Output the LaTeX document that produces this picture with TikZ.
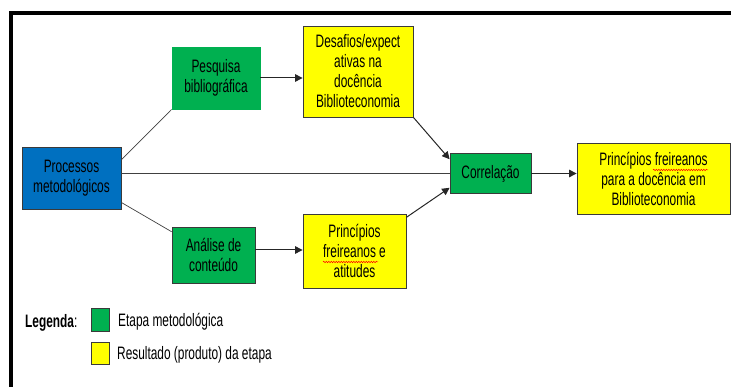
\documentclass[tikz,border=0pt]{standalone}
\usepackage{fontspec}
\setmainfont{Liberation Sans}[FakeStretch=0.66]
\usetikzlibrary{arrows.meta,calc,decorations.pathmorphing}
\definecolor{stepgreen}{HTML}{00B050}
\definecolor{procblue}{HTML}{0070C0}
\definecolor{resyellow}{HTML}{FFFF00}
\definecolor{boxline}{HTML}{3A3A3A}
\definecolor{connline}{HTML}{404040}
\tikzset{
  diagbox/.style={draw=boxline, line width=0.8pt, inner sep=0pt, align=center,
    font=\fontsize{18}{20}\selectfont, text=black},
  greenbox/.style={diagbox, fill=stepgreen},
  yellowbox/.style={diagbox, fill=resyellow},
  bluebox/.style={diagbox, fill=procblue},
  plainline/.style={draw=connline, line width=0.7pt},
  arrowline/.style={draw=black!85, line width=1pt, -{Triangle[length=7.5pt,width=7.5pt]}},
  legtext/.style={anchor=west, inner sep=0pt, font=\fontsize{18}{20}\selectfont},
  squiggle/.style={draw=red, line width=0.5pt, decorate,
    decoration={snake, amplitude=0.7pt, segment length=2.5pt}}
}
\begin{document}
\begin{tikzpicture}[x=1pt,y=-1pt]
\useasboundingbox (0,0) rectangle (731,387);
% frame
\draw[line width=4pt, line cap=rect] (11,390) -- (11,13) -- (735,13);

% nodes
\node[bluebox, minimum width=99pt, minimum height=62pt] (proc) at (71.5,178) {Processos\\metodológicos};
\node[greenbox, draw=stepgreen, minimum width=88pt, minimum height=62pt] (pesq) at (216,78) {Pesquisa\\bibliográfica};
\node[yellowbox, minimum width=110pt, minimum height=91pt] (desaf) at (358,71.5) {Desafios/expect\\ativas na\\docência\\Biblioteconomia};
\node[greenbox, minimum width=81pt, minimum height=40pt] (corr) at (490.5,173.5) {Correlação};
\node[yellowbox, minimum width=153pt, minimum height=71pt] (final) at (653.5,178.5) {Princípios freireanos\\para a docência em\\Biblioteconomia};
\node[greenbox, minimum width=83pt, minimum height=56pt] (anal) at (213.5,255) {Análise de\\conteúdo};
\node[yellowbox, minimum width=103pt, minimum height=74pt] (atit) at (354.5,251) {Princípios\\freireanos e\\atitudes};

% connectors
\draw[plainline] ($(proc.north east)!0.21!(proc.south east)$) -- (pesq.south west);
\draw[plainline] ($(proc.north east)!0.89!(proc.south east)$) -- ($(anal.north west)!0.09!(anal.south west)$);
\draw[plainline] (proc.east |- corr.west) -- (corr.west);
\draw[arrowline] (pesq.east) -- (pesq.east -| desaf.west);
\draw[arrowline] (anal.east |- 0,250) -- (atit.west |- 0,250);
\draw[arrowline] (desaf.south east) -- ($(corr.north west)!0.15!(corr.south west)$);
\draw[arrowline] ($(atit.north east)!0.05!(atit.south east)$) -- ($(corr.north west)!0.85!(corr.south west)$);
\draw[arrowline] (corr.east) -- (corr.east -| final.west);

% spell-check squiggles
\draw[squiggle] (653,170) -- (708,170);
\draw[squiggle] (323,262) -- (378,262);

% legend
\node[legtext] (leg) at (25,323) {\textbf{Legenda}:};
\node[draw=boxline, line width=0.8pt, fill=stepgreen, minimum width=18pt, minimum height=23pt, inner sep=0pt] (lgreen) at (100,319.5) {};
\node[draw=boxline, line width=0.8pt, fill=resyellow, minimum width=18pt, minimum height=22pt, inner sep=0pt] (lyellow) at (100,353) {};
\node[legtext] (lgt) at (118,322) {Etapa metodológica};
\node[legtext] (lyt) at (117,355) {Resultado (produto) da etapa};
\end{tikzpicture}
\end{document}
